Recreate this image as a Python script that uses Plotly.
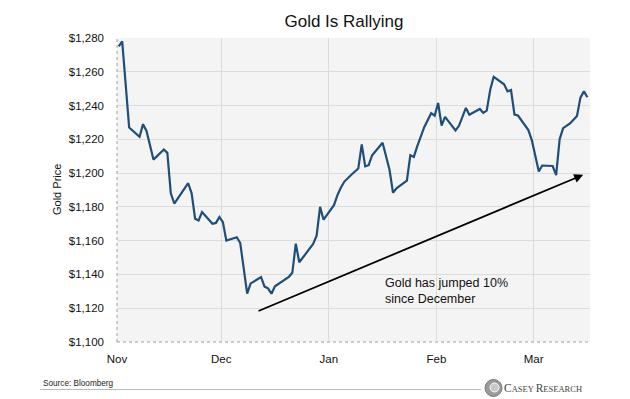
import plotly.graph_objects as go
import pandas as pd

# ---------------- data ----------------
dates = ["2016-11-01","2016-11-02","2016-11-04","2016-11-07","2016-11-08","2016-11-09","2016-11-11",
         "2016-11-14","2016-11-15","2016-11-16","2016-11-17","2016-11-21","2016-11-22","2016-11-23",
         "2016-11-24","2016-11-25","2016-11-28","2016-11-29","2016-11-30",
         "2016-12-01","2016-12-02","2016-12-05","2016-12-06","2016-12-08","2016-12-09","2016-12-12",
         "2016-12-13","2016-12-14","2016-12-15","2016-12-16","2016-12-20","2016-12-21","2016-12-22",
         "2016-12-23","2016-12-27","2016-12-28","2016-12-29","2016-12-30",
         "2017-01-02","2017-01-03","2017-01-04","2017-01-05","2017-01-07","2017-01-09","2017-01-10",
         "2017-01-11","2017-01-12","2017-01-13","2017-01-16","2017-01-18","2017-01-19","2017-01-20",
         "2017-01-23","2017-01-24","2017-01-25","2017-01-26","2017-01-28","2017-01-30","2017-01-31",
         "2017-02-01","2017-02-02","2017-02-03","2017-02-06","2017-02-07","2017-02-09","2017-02-10",
         "2017-02-13","2017-02-14","2017-02-15","2017-02-16","2017-02-17","2017-02-20","2017-02-21",
         "2017-02-22","2017-02-23","2017-02-24","2017-02-27","2017-02-28",
         "2017-03-02","2017-03-03","2017-03-06","2017-03-07","2017-03-08","2017-03-09","2017-03-11",
         "2017-03-13","2017-03-14","2017-03-15","2017-03-16"]

prices = [1275, 1278, 1227, 1221.5, 1229, 1225, 1208, 1214, 1212, 1188, 1182, 1194, 1188, 1173,
          1172, 1177, 1170, 1170.5, 1174,
          1171, 1160, 1162, 1158.6, 1128.6, 1134.7, 1138.4, 1132.8, 1131.8, 1128.6, 1133, 1138.6,
          1141, 1158.2, 1147.2, 1158, 1163, 1180, 1172.4,
          1181, 1187, 1191.5, 1195, 1199, 1202.7, 1217, 1204, 1204.7, 1210.6, 1218, 1202, 1188.4,
          1191, 1195.5, 1210.6, 1209.6, 1216, 1227.2, 1235.5, 1234,
          1241.5, 1228.2, 1233.3, 1225.3, 1228, 1238.6, 1234.6, 1238, 1235.7, 1237, 1249.2, 1257,
          1252.6, 1248.4, 1249.2, 1234.6, 1234.1, 1225.5, 1219.4,
          1201, 1204.5, 1204.2, 1198.8, 1220, 1226.6, 1229.4, 1233.8, 1244.7, 1248.4, 1244.9]

month_starts = ["2016-11-01", "2016-12-01", "2017-01-01", "2017-02-01", "2017-03-01"]
month_labels = ["Nov", "Dec", "Jan", "Feb", "Mar"]
y_ticks = [1100, 1120, 1140, 1160, 1180, 1200, 1220, 1240, 1260, 1280]

trend_start = ("2016-12-10 20:00", 1118)
trend_end = ("2017-03-14 19:00", 1199)
note_text = "Gold has jumped 10%<br>since December"
note_pos = ("2017-01-16 04:00", 1130)

# ---------------- layout geometry ----------------
W, H = 630, 399
ML, MR, MT, MB = 117, 40, 38, 57
PW, PH = W - ML - MR, H - MT - MB

def px(x):
    return (x - ML) / PW

def py(y):
    return (H - MB - y) / PH

FONT = "Liberation Sans Narrow, Arial Narrow, Liberation Sans, Arial, sans-serif"

# day-slot centred dates (ticks on day boundaries)
tickvals = [pd.Timestamp(m) - pd.Timedelta(hours=12) for m in month_starts]

fig = go.Figure()
fig.add_trace(go.Scatter(
    x=dates, y=prices, mode="lines",
    line=dict(color="#1F4E79", width=2.2),
    hoverinfo="skip", showlegend=False,
))

fig.update_layout(
    width=W, height=H,
    margin=dict(l=ML, r=MR, t=MT, b=MB),
    paper_bgcolor="white",
    plot_bgcolor="#F4F4F4",
    font=dict(family=FONT, color="#111111"),
    title=dict(text="Gold Is Rallying", x=344 / W, xanchor="center",
               y=1 - 21 / H, yanchor="middle", yref="container",
               font=dict(family=FONT, size=17, color="#111111")),
    xaxis=dict(
        type="date",
        range=[pd.Timestamp("2016-10-31 12:00"), pd.Timestamp("2017-03-16 18:00")],
        tickvals=tickvals, ticktext=month_labels,
        showgrid=True, gridcolor="#DCDCDC", gridwidth=1,
        zeroline=False, showline=False,
        ticks="", ticklabelstandoff=8,
        tickfont=dict(family=FONT, size=11.5, color="#111111"),
    ),
    yaxis=dict(
        range=[1100, 1280],
        tickvals=y_ticks, tickformat="$,.0f",
        showgrid=True, gridcolor="#DCDCDC", gridwidth=1,
        zeroline=False, showline=False,
        ticks="", ticklabelstandoff=12,
        tickfont=dict(family=FONT, size=11.5, color="#111111"),
    ),
)

# dotted axis lines (left and bottom)
fig.add_shape(type="line", xref="x domain", yref="y domain", x0=0, x1=0, y0=0, y1=1,
              line=dict(color="#BDBDBD", width=1.5, dash="dot"))
fig.add_shape(type="line", xref="x domain", yref="y domain", x0=0, x1=1, y0=0, y1=0,
              line=dict(color="#BDBDBD", width=1.5, dash="dot"))

# trend arrow
fig.add_annotation(
    x=trend_end[0], y=trend_end[1], xref="x", yref="y",
    ax=trend_start[0], ay=trend_start[1], axref="x", ayref="y",
    showarrow=True, arrowhead=2, arrowsize=1, arrowwidth=1.8, arrowcolor="#000000",
    standoff=0, text="",
)
fig.add_annotation(
    x=note_pos[0], y=note_pos[1], xref="x", yref="y",
    text=note_text, showarrow=False, xanchor="left", yanchor="middle", align="left",
    font=dict(family=FONT, size=12.5, color="#111111"),
)

# y axis title
fig.add_annotation(
    x=px(57), y=py(190), xref="paper", yref="paper",
    text="Gold Price", textangle=-90, showarrow=False,
    xanchor="center", yanchor="middle",
    font=dict(family=FONT, size=11, color="#111111"),
)

# footer
fig.add_annotation(
    x=px(41), y=py(383), xref="paper", yref="paper",
    text="Source: Bloomberg", showarrow=False, xanchor="left", yanchor="middle",
    font=dict(family=FONT, size=8.2, color="#222222"),
)
fig.add_shape(type="line", xref="paper", yref="paper",
              x0=px(40), x1=px(481), y0=py(389.5), y1=py(389.5),
              line=dict(color="#BBBBBB", width=1))
# logo
fig.add_shape(type="circle", xref="paper", yref="paper",
              x0=px(485), x1=px(502), y0=py(396.5), y1=py(379.5),
              fillcolor="#9A9A9A", line=dict(color="#7A7A7A", width=1))
fig.add_shape(type="circle", xref="paper", yref="paper",
              x0=px(490), x1=px(499), y0=py(392), y1=py(383),
              fillcolor="#C8C8C8", line=dict(color="#FFFFFF", width=1))
fig.add_annotation(
    x=px(502), y=py(388), xref="paper", yref="paper",
    text="<span style='font-size:11.5px'>C</span>ASEY <span style='font-size:11.5px'>R</span>ESEARCH",
    showarrow=False, xanchor="left", yanchor="middle",
    font=dict(family="Liberation Serif, DejaVu Serif, serif", size=8.5, color="#444444"),
)

fig.write_html("out.html",
               config={"displayModeBar": False},
               post_script="document.body.style.margin='0';document.body.style.padding='0';")
